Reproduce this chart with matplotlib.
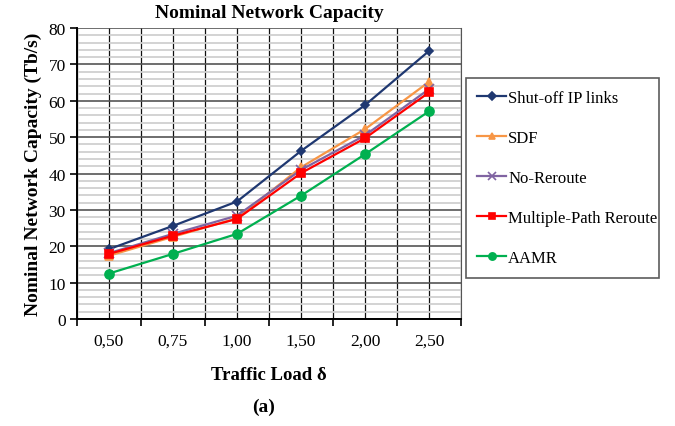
import matplotlib.pyplot as plt
from matplotlib.ticker import MultipleLocator, FixedLocator

plt.rcParams['font.family'] = ['Liberation Serif', 'DejaVu Serif']

loads = ["0,50", "0,75", "1,00", "1,50", "2,00", "2,50"]
shutoff = [19.2, 25.6, 32.3, 46.2, 58.8, 73.7]
sdf = [17.4, 22.6, 27.7, 41.7, 52.2, 65.2]
no_reroute = [18.1, 23.4, 28.4, 41.0, 50.5, 63.2]
multipath = [17.9, 22.9, 27.5, 40.1, 49.7, 62.3]
aamr = [12.5, 17.9, 23.4, 33.9, 45.3, 57.1]

series = [
    ("Shut-off IP links", shutoff, "#1F3871", "D", 4.5),
    ("SDF", sdf, "#F79646", "^", 6),
    ("No-Reroute", no_reroute, "#8064A2", "x", 7),
    ("Multiple-Path Reroute", multipath, "#FF0000", "s", 6),
    ("AAMR", aamr, "#00B050", "o", 6.5),
]

fig = plt.figure(figsize=(6.75, 4.27), dpi=100)
ax = fig.add_axes([0.114, 0.2506, 0.569, 0.6814])

x = list(range(len(loads)))
for name, vals, col, mk, ms in series:
    ax.plot(x, vals, color=col, marker=mk, markersize=ms, linewidth=1.6,
            markeredgewidth=1.2, label=name, zorder=3)

ax.set_xlim(-0.5, len(loads) - 0.5)
ax.set_ylim(0, 80)
ax.yaxis.set_major_locator(MultipleLocator(10))
ax.yaxis.set_minor_locator(MultipleLocator(2))
ax.xaxis.set_major_locator(FixedLocator([i - 0.5 for i in range(len(loads) + 1)]))
ax.xaxis.set_major_formatter(plt.NullFormatter())
ax.set_xticks(x, loads, minor=True)

ax.tick_params(axis='x', which='major', direction='out', length=5, width=1.2)
ax.tick_params(axis='x', which='minor', length=0, labelsize=12.5, pad=10)
ax.tick_params(axis='y', which='major', direction='out', length=5, width=1.2, labelsize=12.5, pad=3)
ax.tick_params(axis='y', which='minor', length=0)

ax.grid(True, axis='y', which='minor', color='#d0d0d0', linewidth=1.3, zorder=0)
ax.grid(True, axis='y', which='major', color='#555555', linewidth=1.2, zorder=1)
for v in range(2 * len(loads) + 1):
    ax.axvline(v * 0.5 - 0.5, color='#111111', linewidth=0.9, zorder=1)

ax.spines['left'].set_linewidth(1.4)
ax.spines['bottom'].set_linewidth(1.4)
ax.spines['top'].set_visible(False)
ax.spines['right'].set_color('#555555')

ax.set_title("Nominal Network Capacity", fontsize=14, fontweight='bold', pad=8)
ax.set_xlabel("Traffic Load δ", fontsize=13.5, fontweight='bold', labelpad=12)
ax.set_ylabel("Nominal Network Capacity (Tb/s)", fontsize=14, fontweight='bold', labelpad=5)
fig.text(0.39, 0.047, "(a)", fontsize=14, fontweight='bold', ha='center', va='center')

leg = fig.legend(loc='upper left', bbox_to_anchor=(0.690, 0.354, 0.286, 0.461),
                 mode='expand', fontsize=12, frameon=True, fancybox=False,
                 edgecolor='#333333', borderaxespad=0, labelspacing=1.45,
                 handlelength=1.7, handletextpad=0.15, borderpad=0.7,
                 markerscale=0.8)
leg.get_frame().set_linewidth(1.2)

fig.savefig("out.png", dpi=100)
